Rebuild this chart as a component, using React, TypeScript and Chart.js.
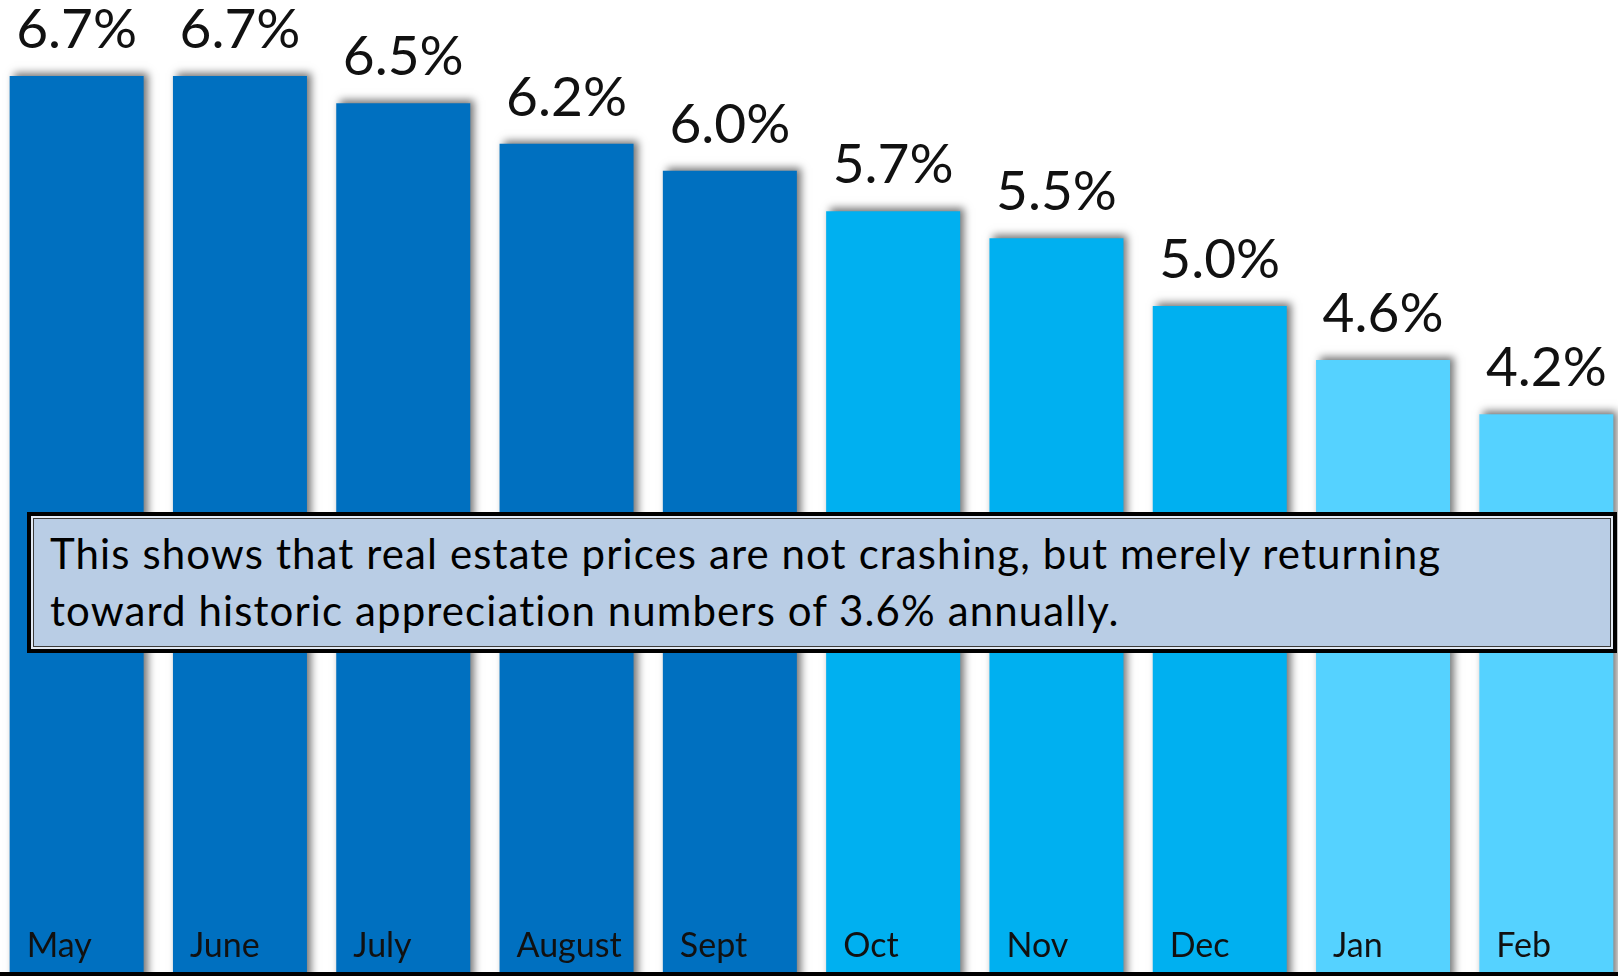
import React, { useEffect, useRef } from "react";
import { Chart, registerables } from "chart.js";

Chart.register(...registerables);

const months = ["May", "June", "July", "August", "Sept", "Oct", "Nov", "Dec", "Jan", "Feb"];
const values = [6.7, 6.7, 6.5, 6.2, 6.0, 5.7, 5.5, 5.0, 4.6, 4.2];
const valueLabels = ["6.7%", "6.7%", "6.5%", "6.2%", "6.0%", "5.7%", "5.5%", "5.0%", "4.6%", "4.2%"];
const barColors = [
  "#0070C0", "#0070C0", "#0070C0", "#0070C0", "#0070C0",
  "#00B0F0", "#00B0F0", "#00B0F0",
  "#55D2FF", "#55D2FF",
];
const noteLines = [
  "This shows that real estate prices are not crashing, but merely returning",
  "toward historic appreciation numbers of 3.6% annually.",
];

const FONT = "Lato, 'Open Sans', sans-serif";

const shadowAndLabels = {
  id: "shadowAndLabels",
  beforeDatasetsDraw(chart: any) {
    const ctx = chart.ctx;
    ctx.save();
    ctx.shadowColor = "rgba(0,0,0,0.55)";
    ctx.shadowBlur = 8;
    ctx.shadowOffsetX = 4;
    ctx.shadowOffsetY = -3;
  },
  afterDatasetsDraw(chart: any) {
    const ctx = chart.ctx;
    ctx.restore();
    const meta = chart.getDatasetMeta(0);
    ctx.save();
    ctx.fillStyle = "#111";
    meta.data.forEach((bar: any, i: number) => {
      ctx.font = `55px ${FONT}`;
      ctx.textAlign = "center";
      ctx.textBaseline = "alphabetic";
      ctx.fillText(valueLabels[i], bar.x, bar.y - 28);
      ctx.font = `34px ${FONT}`;
      ctx.textAlign = "left";
      ctx.fillText(months[i], bar.x - bar.width / 2 + 17, 957);
    });
    ctx.restore();
  },
};

export default function App() {
  const ref = useRef<HTMLCanvasElement | null>(null);
  useEffect(() => {
    if (!ref.current) return;
    const chart = new Chart(ref.current, {
      type: "bar",
      data: {
        labels: months,
        datasets: [
          {
            data: values,
            backgroundColor: barColors,
            borderWidth: 0,
            barPercentage: 0.8206,
            categoryPercentage: 1,
          },
        ],
      },
      options: {
        responsive: false,
        animation: false,
        layout: { padding: 0 },
        plugins: { legend: { display: false }, tooltip: { enabled: false } },
        scales: {
          x: { display: false, offset: true },
          y: { display: false, min: 0, max: 7.263 },
        },
      },
      plugins: [shadowAndLabels],
    });
    return () => chart.destroy();
  }, []);

  return (
    <div
      style={{
        position: "fixed",
        left: 0,
        top: 0,
        width: 1618,
        height: 976,
        overflow: "hidden",
        background: "#fff",
      }}
    >
      <canvas
        ref={ref}
        width={1633}
        height={982}
        style={{ position: "absolute", left: -5.35, top: 0, width: 1633, height: 982 }}
      />
      <div
        style={{
          position: "absolute",
          left: 0,
          top: 972,
          width: 1618,
          height: 4,
          background: "#000",
        }}
      />
      <div
        style={{
          position: "absolute",
          left: 27,
          top: 512,
          width: 1590,
          height: 141,
          boxSizing: "border-box",
          border: "4px solid #000",
          background: "#B9CDE5",
          boxShadow: "inset 0 0 0 2px #E3EAF4, inset 0 0 0 3px #3a3a3a",
          padding: "9px 0 0 19px",
          fontFamily: FONT,
          fontSize: 42,
          letterSpacing: "1.1px",
          lineHeight: "57px",
          color: "#000",
          whiteSpace: "nowrap",
        }}
      >
        {noteLines[0]}
        <br />
        {noteLines[1]}
      </div>
    </div>
  );
}
